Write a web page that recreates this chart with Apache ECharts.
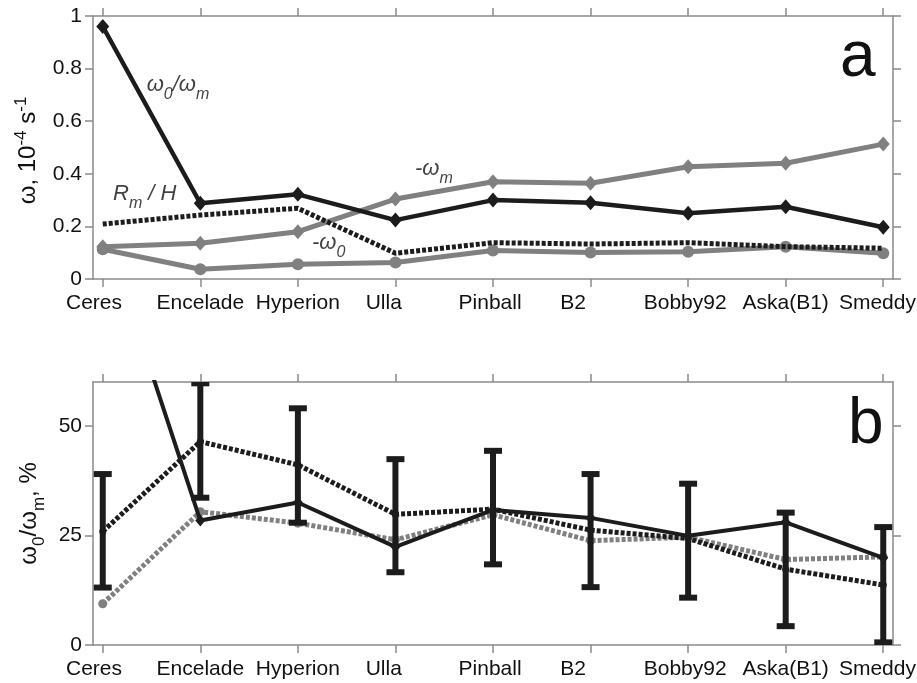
<!DOCTYPE html>
<html><head><meta charset="utf-8">
<script src="https://cdn.jsdelivr.net/npm/echarts@6/dist/echarts.min.js"></script>
<style>html,body{margin:0;padding:0;background:#fff}#c{width:917px;height:683px}</style>
</head><body><div id="c"></div>
<script>
// ---------- data ----------
const categories = ['Ceres','Encelade','Hyperion','Ulla','Pinball','B2','Bobby92','Aska(B1)','Smeddy'];
// panel a (10^-4 s^-1)
const ratioA      = [0.960,0.288,0.322,0.224,0.300,0.290,0.250,0.275,0.197];
const minusOmegaM = [0.123,0.136,0.180,0.304,0.370,0.364,0.427,0.440,0.513];
const minusOmega0 = [0.113,0.037,0.056,0.063,0.108,0.101,0.104,0.123,0.098];
const rmOverH     = [0.209,0.243,0.269,0.098,0.138,0.133,0.138,0.123,0.117];
// panel b (%)
const ratioB       = [96,28.4,32.5,22.4,30.8,29.0,24.9,28.0,19.9];
const ratioBDotted = [25.9,46.4,41.1,29.8,31.0,26.2,24.3,17.3,13.7];
const ratioBGray   = [9.4,30.4,27.8,24.0,29.7,23.8,24.6,19.5,20.1];
const errLow       = [13.1,33.6,27.9,16.6,18.4,13.2,10.8,4.3,0.6];
const errHigh      = [39.0,59.7,54.0,42.4,44.3,39.0,36.8,30.2,26.9];
const yTicksA = [0,0.2,0.4,0.6,0.8,1];
const yTicksB = [0,25,50];
const xTicks = categories.map((c,i)=>i);
// annotation text anchors (data coords: category index, value)
const annA = [
  {pos:[0.45,0.735], text:'{it|ω}{sub|0}{it|/ω}{sub|m}'},
  {pos:[0.105,0.32], text:'{it|R}{sub|m}{it| / H}'},
  {pos:[3.2,0.415], text:'{it|-ω}{sub|m}'},
  {pos:[2.145,0.135], text:'{it|-ω}{sub|0}'}
];

// ---------- style ----------
const FONT = 'Liberation Sans';
const BLACK = '#1c1c1c', GRAY = '#808080', FRAME = '#8a8a8a';
const chart = echarts.init(document.getElementById('c'));

function xAxis(grid, pos, labels){
  return {
    type:'value', gridIndex:grid, position:pos, min:-0.1, max:8.1,
    axisLine:{show:true, onZero:false, lineStyle:{color:FRAME, width:1.5}},
    axisTick:{show:true, inside:false, length:8, customValues:xTicks, lineStyle:{color:FRAME, width:1.5}},
    axisLabel:{show:labels, customValues:xTicks, margin:14, color:'#111', fontSize:21, fontFamily:FONT,
      hideOverlap:false, formatter:v=>categories[Math.round(v)].padEnd(8,' ')},
    splitLine:{show:false}
  };
}
function yAxis(grid, pos, max, ticks, labels, name, rich, nameGap, namePad){
  return {
    type:'value', gridIndex:grid, position:pos, min:0, max:max,
    axisLine:{show:true, onZero:false, lineStyle:{color:FRAME, width:1.5}},
    axisTick:{show:true, inside:false, length:8, customValues:ticks, lineStyle:{color:FRAME, width:1.5}},
    axisLabel:{show:labels, customValues:ticks, margin:11, color:'#111', fontSize:21, fontFamily:FONT,
      formatter:v=>String(v)},
    splitLine:{show:false},
    name:name||'', nameLocation:'middle', nameGap:nameGap||0,
    nameTextStyle:{rich:rich||{}, padding:namePad||0}
  };
}
const nameRichA = {
  n:{fontSize:24, fontFamily:FONT, color:'#111', lineHeight:27, verticalAlign:'bottom'},
  sup:{fontSize:17, fontFamily:FONT, color:'#111', lineHeight:17, padding:[0,0,12,0], verticalAlign:'top'}
};
const nameRichB = {
  n:{fontSize:24, fontFamily:FONT, color:'#111', lineHeight:27, verticalAlign:'top'},
  sub:{fontSize:17, fontFamily:FONT, color:'#111', lineHeight:17, padding:[13,0,0,0], verticalAlign:'top'}
};
const annRich = {
  it:{fontSize:22, fontFamily:FONT, fontStyle:'italic', color:'#111', lineHeight:24, verticalAlign:'top'},
  sub:{fontSize:16, fontFamily:FONT, fontStyle:'italic', color:'#111', lineHeight:16, padding:[13,0,0,0], verticalAlign:'top'}
};
const pts = arr => arr.map((v,i)=>[i,v]);
const dash = [4,2];

chart.setOption({
  animation:false,
  backgroundColor:'#fff',
  grid:[
    {left:93, right:24, top:16, height:263, outerBoundsMode:'none', containLabel:false},
    {left:93, right:24, top:382, height:263, outerBoundsMode:'none', containLabel:false}
  ],
  xAxis:[ xAxis(0,'bottom',true), xAxis(0,'top',false), xAxis(1,'bottom',true), xAxis(1,'top',false) ],
  yAxis:[
    yAxis(0,'left',1,yTicksA,true,'{n|ω, 10}{sup|-4}{n| s}{sup|-1}',nameRichA,39,[0,6,0,0]),
    yAxis(0,'right',1,yTicksA,false),
    yAxis(1,'left',60,yTicksB,true,'{n|ω}{sub|0}{n|/ω}{sub|m}{n|, %}',nameRichB,47,0),
    yAxis(1,'right',60,yTicksB,false)
  ],
  graphic:[
    {type:'text', left:840, top:26, style:{text:'a', fontSize:64, fontFamily:FONT, fill:'#111', verticalAlign:'middle'}},
    {type:'text', left:848, top:393, style:{text:'b', fontSize:64, fontFamily:FONT, fill:'#111', verticalAlign:'middle'}}
  ],
  series:[
    // ---- panel a ----
    {type:'line', xAxisIndex:0, yAxisIndex:0, data:pts(minusOmega0), color:GRAY,
      lineStyle:{width:5, color:GRAY}, symbol:'circle', symbolSize:12, itemStyle:{color:GRAY}, z:2},
    {type:'line', xAxisIndex:0, yAxisIndex:0, data:pts(minusOmegaM), color:GRAY,
      lineStyle:{width:5, color:GRAY}, symbol:'diamond', symbolSize:[13,15], itemStyle:{color:GRAY}, z:3},
    {type:'line', xAxisIndex:0, yAxisIndex:0, data:pts(rmOverH), color:BLACK,
      lineStyle:{width:5, color:BLACK, type:dash}, symbol:'none', z:4},
    {type:'line', xAxisIndex:0, yAxisIndex:0, data:pts(ratioA), color:BLACK,
      lineStyle:{width:4.5, color:BLACK}, symbol:'diamond', symbolSize:[13,15], itemStyle:{color:BLACK}, z:5},
    {type:'scatter', xAxisIndex:0, yAxisIndex:0, symbolSize:0, silent:true, z:6,
      data:annA.map(a=>({value:a.pos, label:{formatter:a.text}})),
      label:{show:true, position:[0,0], align:'left', verticalAlign:'middle', rich:annRich}},
    // ---- panel b ----
    {type:'line', xAxisIndex:2, yAxisIndex:2, data:pts(ratioBGray), color:GRAY,
      lineStyle:{width:5, color:GRAY, type:dash}, symbol:'circle', symbolSize:9, itemStyle:{color:GRAY}, z:2},
    {type:'line', xAxisIndex:2, yAxisIndex:2, data:pts(ratioBDotted), color:BLACK,
      lineStyle:{width:5, color:BLACK, type:dash}, symbol:'circle', symbolSize:7, itemStyle:{color:BLACK}, z:3},
    {type:'custom', xAxisIndex:2, yAxisIndex:2, clip:true, z:4,
      data:categories.map((c,i)=>[i, errLow[i], errHigh[i]]),
      encode:{x:0, y:[1,2]},
      renderItem:(params, api)=>{
        const x = api.value(0);
        const lo = api.coord([x, api.value(1)]);
        const hi = api.coord([x, api.value(2)]);
        const hw = 9;
        const st = {stroke:BLACK, lineWidth:6};
        return {type:'group', children:[
          {type:'line', shape:{x1:lo[0], y1:lo[1], x2:hi[0], y2:hi[1]}, style:st},
          {type:'line', shape:{x1:lo[0]-hw, y1:lo[1], x2:lo[0]+hw, y2:lo[1]}, style:st},
          {type:'line', shape:{x1:hi[0]-hw, y1:hi[1], x2:hi[0]+hw, y2:hi[1]}, style:st}
        ]};
      }},
    {type:'line', xAxisIndex:2, yAxisIndex:2, data:pts(ratioB), color:BLACK, clip:true,
      lineStyle:{width:4, color:BLACK}, symbol:'diamond', symbolSize:[10,12], itemStyle:{color:BLACK}, z:5}
  ]
});
</script></body></html>
